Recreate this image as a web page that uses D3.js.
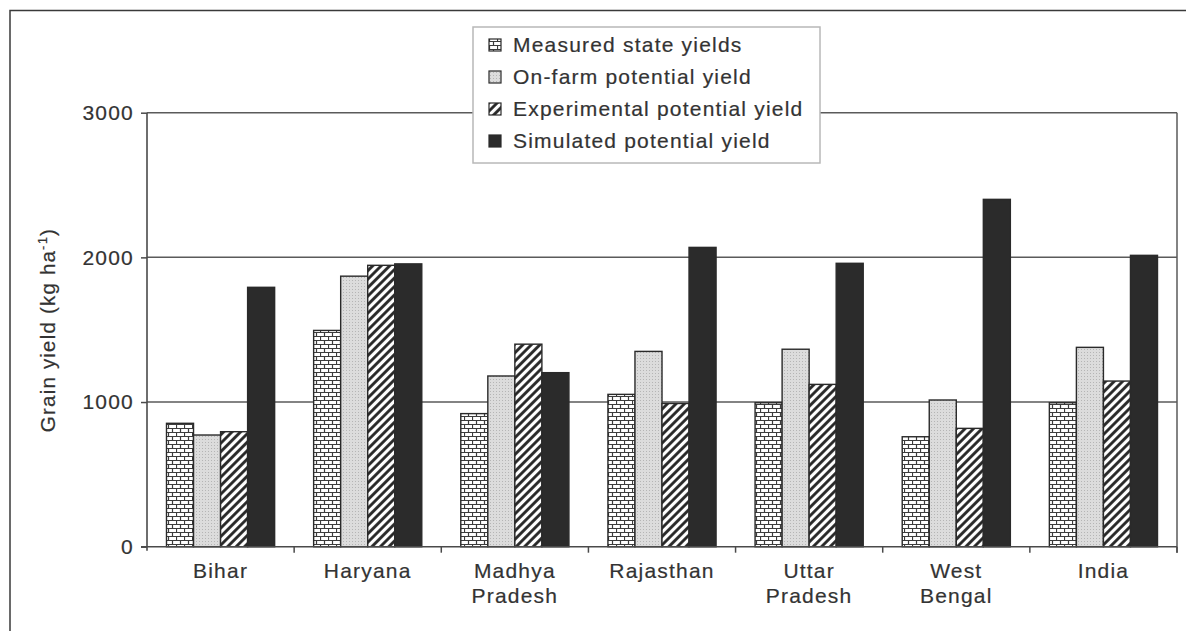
<!DOCTYPE html>
<html><head><meta charset="utf-8">
<script src="https://cdn.jsdelivr.net/npm/d3@7"></script>
<style>html,body{margin:0;padding:0;background:#fff;}svg{display:block;}</style>
</head><body>
<svg id="chart" width="1186" height="631"></svg>
<script>
const categories = [["Bihar"],["Haryana"],["Madhya","Pradesh"],["Rajasthan"],["Uttar","Pradesh"],["West","Bengal"],["India"]];
const seriesNames = ["Measured state yields","On-farm potential yield","Experimental potential yield","Simulated potential yield"];
const measured     = [853, 1495, 920, 1053, 995, 760, 995];
const onFarm       = [772, 1870, 1180, 1350, 1365, 1014, 1378];
const experimental = [795, 1945, 1400, 990, 1122, 818, 1145];
const simulated    = [1793, 1955, 1203, 2069, 1959, 2401, 2014];
const yTicks = [0, 1000, 2000, 3000];

const seriesValues = [measured, onFarm, experimental, simulated];
const catKeys = categories.map(c => c.join(" "));

const svg = d3.select("#chart");
const FONT = "Liberation Sans, Arial, sans-serif";
const textColor = "#333";
const LS = 1.2;
function styleText(sel, size){
  sel.attr("font-family",FONT).attr("font-size",size).attr("fill",textColor)
     .attr("letter-spacing",LS).attr("stroke",textColor).attr("stroke-width",0.2);
}

// patterns
const defs = svg.append("defs");
const brick = defs.append("pattern").attr("id","brick").attr("patternUnits","userSpaceOnUse").attr("width",8).attr("height",8);
brick.append("rect").attr("width",8).attr("height",8).attr("fill","#fff");
brick.append("path").attr("d","M0,0.5H8M0,4.5H8M0.5,0V4.5M4.5,4.5V8").attr("stroke","#3c3c3c").attr("stroke-width",1.2).attr("fill","none");
const dots = defs.append("pattern").attr("id","dots").attr("patternUnits","userSpaceOnUse").attr("width",3).attr("height",3);
dots.append("rect").attr("width",3).attr("height",3).attr("fill","#dcdcdc");
dots.append("rect").attr("x",1).attr("y",1).attr("width",1).attr("height",1).attr("fill","#b5b5b5");
const hatch = defs.append("pattern").attr("id","hatch").attr("patternUnits","userSpaceOnUse").attr("width",6).attr("height",6).attr("patternTransform","rotate(45)");
hatch.append("rect").attr("width",6).attr("height",6).attr("fill","#fff");
hatch.append("line").attr("x1",1.5).attr("x2",1.5).attr("y1",0).attr("y2",6).attr("stroke","#222").attr("stroke-width",2.8);
const fills = ["url(#brick)","url(#dots)","url(#hatch)","#2b2b2b"];

// outer frame
svg.append("path").attr("d","M10,640V10.5H1200").attr("fill","none").attr("stroke","#3a3a3a").attr("stroke-width",1.5);

const x0 = 147, x1 = 1177;
const y = d3.scaleLinear().domain([0,3000]).range([546.7,112.7]);
const x = d3.scaleBand().domain(catKeys).range([x0,x1]).padding(0);
const xs = d3.scaleBand().domain(seriesNames).range([19.5, x.bandwidth()-19.5]).padding(0);

// gridlines (incl. top frame)
svg.append("g").selectAll("line").data(yTicks.filter(t=>t>0)).join("line")
  .attr("x1",x0).attr("x2",x1).attr("y1",d=>y(d)).attr("y2",d=>y(d))
  .attr("stroke","#5a5a5a").attr("stroke-width",1.5);
// right frame
svg.append("line").attr("x1",x1).attr("x2",x1).attr("y1",y(3000)).attr("y2",y(0)+6)
  .attr("stroke","#5a5a5a").attr("stroke-width",1.5);

// bars
const data = [];
catKeys.forEach((c,i)=>seriesNames.forEach((s,j)=>data.push({c,s,j,v:seriesValues[j][i]})));
svg.append("g").selectAll("rect").data(data).join("rect")
  .attr("x",d=>x(d.c)+xs(d.s)).attr("width",xs.bandwidth())
  .attr("y",d=>y(d.v)).attr("height",d=>y(0)-y(d.v))
  .attr("fill",d=>fills[d.j]).attr("stroke","#2a2a2a").attr("stroke-width",1.4);

// y axis
const yAxis = svg.append("g").attr("transform",`translate(${x0},0)`)
  .call(d3.axisLeft(y).tickValues(yTicks).tickSize(6).tickPadding(7).tickFormat(d3.format("d")));
yAxis.select(".domain").attr("d",`M0,${y(3000)}V${y(0)+4}`).attr("stroke","#4a4a4a").attr("stroke-width",1.6);
yAxis.selectAll(".tick line").attr("stroke","#4a4a4a").attr("stroke-width",1.5);
yAxis.selectAll(".tick text").call(styleText, 21);

// x axis
const xAxisG = svg.append("g");
xAxisG.append("line").attr("x1",x0-6).attr("x2",x1).attr("y1",y(0)).attr("y2",y(0)).attr("stroke","#4a4a4a").attr("stroke-width",1.6);
const bounds = catKeys.map(c=>x(c)).concat([x1]).slice(1);
xAxisG.selectAll(".xt").data(bounds).join("line").attr("class","xt")
  .attr("x1",d=>d).attr("x2",d=>d).attr("y1",y(0)).attr("y2",y(0)+6).attr("stroke","#4a4a4a").attr("stroke-width",1.5);
const labels = xAxisG.selectAll(".xl").data(categories).join("text").attr("class","xl")
  .attr("x",(d,i)=>x(catKeys[i])+x.bandwidth()/2).attr("y",578)
  .attr("text-anchor","middle").call(styleText, 21);
labels.each(function(d){
  const t = d3.select(this);
  d.forEach((line,k)=>t.append("tspan").attr("x",t.attr("x")).attr("dy",k===0?0:25).text(line));
});

// y title
const yt = svg.append("text").attr("transform","translate(55,330) rotate(-90)")
  .attr("text-anchor","middle").call(styleText, 20.5);
yt.append("tspan").text("Grain yield (kg ha");
yt.append("tspan").attr("font-size",13).attr("dy",-8).text("-1");
yt.append("tspan").attr("dy",8).text(")");

// legend
const lg = svg.append("g");
lg.append("rect").attr("x",473).attr("y",27).attr("width",347).attr("height",136)
  .attr("fill","#fff").attr("stroke","#b8b8b8").attr("stroke-width",1.5);
const items = lg.selectAll(".li").data(seriesNames).join("g").attr("class","li")
  .attr("transform",(d,i)=>`translate(489,${45+32*i})`);
items.append("rect").attr("x",0).attr("y",-6).attr("width",12).attr("height",12)
  .attr("fill",(d,i)=>fills[i]).attr("stroke","#2a2a2a").attr("stroke-width",1.2);
items.append("text").attr("x",24).attr("y",0).attr("dy","0.35em").call(styleText, 21).text(d=>d);
</script>
</body></html>
